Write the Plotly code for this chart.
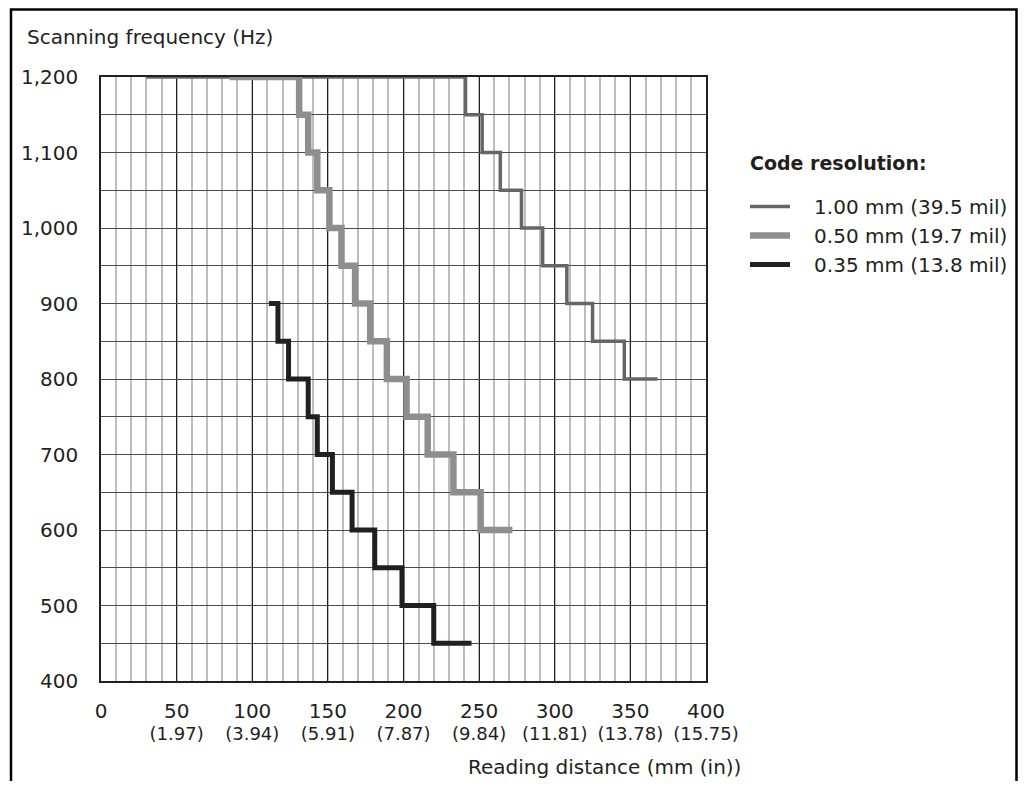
import plotly.graph_objects as go

# ── Data ─────────────────────────────────────────────────────────────────────
# step curves: each point starts a horizontal run at that frequency level
res_100_x = [30, 241, 252, 264, 278, 292, 308, 325, 346, 368]
res_100_y = [1200, 1150, 1100, 1050, 1000, 950, 900, 850, 800, 800]

res_050_x = [85, 131, 137, 143, 151, 159, 168, 178, 189, 202, 216, 233, 251, 272]
res_050_y = [1200, 1150, 1100, 1050, 1000, 950, 900, 850, 800, 750, 700, 650, 600, 600]

res_035_x = [111, 117, 124, 137, 143, 153, 166, 181, 199, 220, 245]
res_035_y = [900, 850, 800, 750, 700, 650, 600, 550, 500, 450, 450]

x_ticks_mm = [0, 50, 100, 150, 200, 250, 300, 350, 400]
x_ticks_in = ["", "1.97", "3.94", "5.91", "7.87", "9.84", "11.81", "13.78", "15.75"]

FONT = "DejaVu Sans"
INK = "#231f20"
DARK = "#666666"
MID = "#8e8e90"
NBSP = "\u00a0"

# page has an 8px body margin on every side, so fit the figure inside it
OFF = 8
W, H = 1026 - 2 * OFF, 789 - 2 * OFF
L, T = 101 - OFF, 77 - OFF
PW, PH = 605, 604
R, B = W - L - PW, H - T - PH


def px_x(p):
    """page pixel column -> paper x"""
    return (p - OFF - L) / PW


def px_y(p):
    """page pixel row -> paper y"""
    return (T + PH - (p - OFF)) / PH


fig = go.Figure()
fig.add_trace(go.Scatter(
    x=res_100_x, y=res_100_y, mode="lines", line_shape="hv",
    name=NBSP * 3 + "1.00 mm (39.5 mil)", line=dict(color=DARK, width=3.5),
))
fig.add_trace(go.Scatter(
    x=res_050_x, y=res_050_y, mode="lines", line_shape="hv",
    name=NBSP * 3 + "0.50 mm (19.7 mil)", line=dict(color=MID, width=6.5),
))
fig.add_trace(go.Scatter(
    x=res_035_x, y=res_035_y, mode="lines", line_shape="hv",
    name=NBSP * 3 + "0.35 mm (13.8 mil)", line=dict(color=INK, width=5),
))

tick_text = [
    f"<span style='font-size:20px'>{m}</span>" if not i else
    f"<span style='font-size:20px'>{m}</span><br>"
    f"<span style='font-size:18px'>({i})</span>"
    for m, i in zip(x_ticks_mm, x_ticks_in)
]

fig.update_xaxes(
    range=[0, 400], tickvals=x_ticks_mm, ticktext=tick_text,
    showgrid=True, gridcolor=INK, gridwidth=1.3,
    minor=dict(dtick=10, showgrid=True, gridcolor="#bdbdbd", gridwidth=1.5),
    showline=True, linecolor=INK, linewidth=1.5, mirror=True,
    zeroline=False, ticks="", ticklabelstandoff=15,
    tickfont=dict(size=17, color=INK),
)
fig.update_yaxes(
    range=[400, 1200], dtick=100, tickformat=",",
    showgrid=True, gridcolor="#4a4a4a", gridwidth=1.3,
    minor=dict(dtick=50, showgrid=True, gridcolor="#4a4a4a", gridwidth=1.3),
    showline=True, linecolor=INK, linewidth=1.5, mirror=True,
    zeroline=False, ticks="", ticklabelstandoff=17,
    tickfont=dict(size=20, color=INK),
)

# axis titles placed like the original (top-left and bottom-right)
fig.add_annotation(
    text="Scanning frequency (Hz)", xref="paper", yref="paper",
    x=px_x(25), y=px_y(37), xanchor="left", yanchor="middle",
    showarrow=False, font=dict(size=20, color=INK),
)
fig.add_annotation(
    text="Reading distance (mm (in))", xref="paper", yref="paper",
    x=px_x(743), y=px_y(767), xanchor="right", yanchor="middle",
    showarrow=False, font=dict(size=20, color=INK),
)
fig.add_annotation(
    text="<b>Code resolution:</b>", xref="paper", yref="paper",
    x=px_x(748), y=px_y(163), xanchor="left", yanchor="middle",
    showarrow=False, font=dict(size=19, color=INK),
)

# outer frame (open at the bottom), kept inside the figure canvas
fl, fr, ft, fb = px_x(11), px_x(1016.5), px_y(9.5), px_y(800)
fig.add_shape(
    type="path", xref="paper", yref="paper",
    path=f"M {fl},{fb} L {fl},{ft} L {fr},{ft} L {fr},{fb}",
    line=dict(color="black", width=2.5),
)

fig.update_layout(
    width=W, height=H,
    margin=dict(l=L, r=R, t=T, b=B, autoexpand=False),
    paper_bgcolor="white", plot_bgcolor="white",
    font=dict(family=FONT, color=INK, size=20),
    showlegend=True,
    legend=dict(
        x=px_x(745), y=px_y(187), xanchor="left", yanchor="top",
        font=dict(size=20, color=INK), itemwidth=40,
        bgcolor="rgba(0,0,0,0)",
    ),
)

fig.write_html("out.html")
